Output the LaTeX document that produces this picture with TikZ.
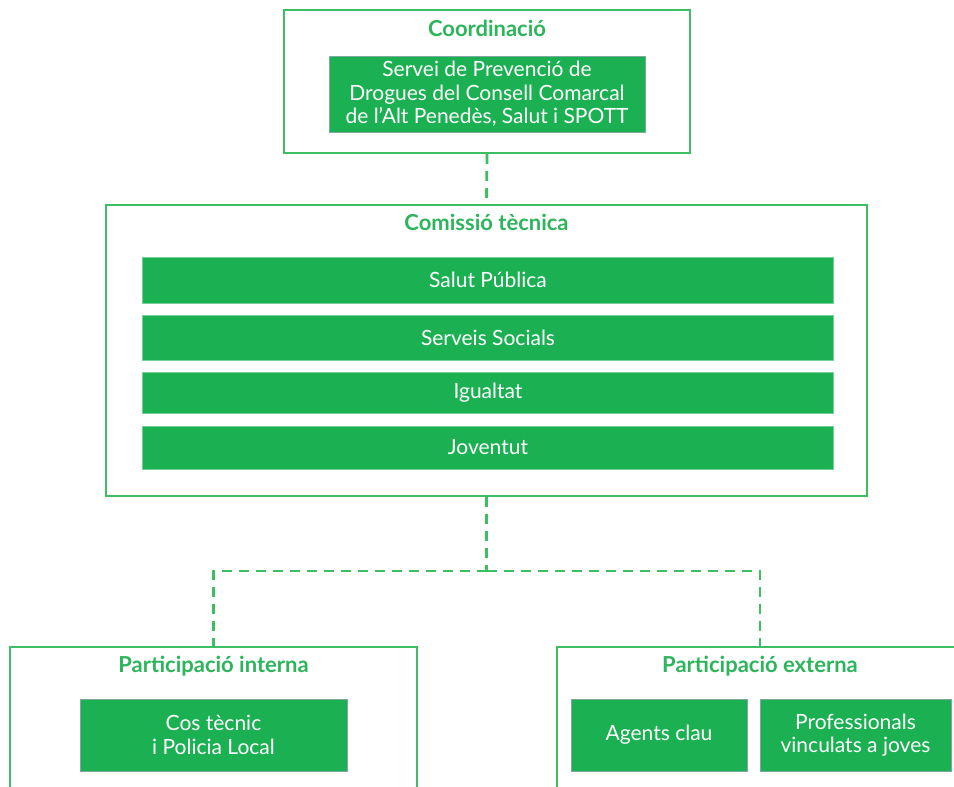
\documentclass[tikz,border=0pt]{standalone}
\usepackage{fontspec}
\setmainfont{Lato}
\definecolor{frame}{HTML}{3DBE63}
\definecolor{fillg}{HTML}{1BB152}
\definecolor{edgeg}{HTML}{7FA9A0}
\definecolor{titleg}{HTML}{2DB55B}
\tikzset{
  outerbox/.style={draw=frame, line width=1.6pt, fill=white, inner sep=0pt},
  greenbox/.style={draw=edgeg, line width=0.6pt, fill=fillg, text=white,
    font=\fontsize{21}{23.5}\selectfont, align=center, inner sep=0pt},
  barbox/.style={greenbox, draw=fillg!60!white},
  grouptitle/.style={text=titleg, font=\fontsize{22}{24}\selectfont\bfseries, inner sep=0pt},
  link/.style={draw=frame, line width=2.8pt, dash pattern=on 10pt off 7pt},
}
\begin{document}
\begin{tikzpicture}[x=1pt, y=-1pt]
\useasboundingbox (0,0) rectangle (954,787);
\clip (0,0) rectangle (954,787);
\fill[white] (0,0) rectangle (954,787);

% Coordination group
\node[outerbox, minimum width=406pt, minimum height=143pt] (coord) at (487,81.5) {};
\node[grouptitle] (coordT) at (487,28) {Coordinació};
\node[greenbox, minimum width=316pt, minimum height=76pt] (spd) at (487,94)
  {Servei de Prevenció de\\Drogues del Consell Comarcal\\de l’Alt Penedès, Salut i SPOTT};

% Technical commission
\node[outerbox, minimum width=761pt, minimum height=291pt] (com) at (486.5,350.5) {};
\node[grouptitle] (comT) at (486.5,222) {Comissió tècnica};
\node[barbox, minimum width=691pt, minimum height=46pt] (b1) at (488,280) {Salut Pública};
\node[barbox, minimum width=691pt, minimum height=45pt] (b2) at (488,337.5) {Serveis Socials};
\node[barbox, minimum width=691pt, minimum height=41pt] (b3) at (488,392.5) {Igualtat};
\node[barbox, minimum width=691pt, minimum height=43pt] (b4) at (488,447.5) {Joventut};

% Participation groups
\node[outerbox, minimum width=407pt, minimum height=160pt] (int) at (213.5,727) {};
\node[grouptitle] (intT) at (213.5,666) {Participació interna};
\node[greenbox, minimum width=267pt, minimum height=72pt] (cos) at (213.5,735)
  {Cos tècnic\\i Policia Local};

\node[outerbox, minimum width=406pt, minimum height=160pt] (ext) at (760,727) {};
\node[grouptitle] (extT) at (760,666) {Participació externa};
\node[greenbox, minimum width=176pt, minimum height=72pt] (agents) at (659,735) {Agents clau};
\node[greenbox, minimum width=191pt, minimum height=72pt] (prof) at (855.5,735)
  {Professionals\\vinculats a joves};

% Dashed connectors
\coordinate (split) at (486.5,571);
\draw[link] (coord.south) -- (com.north);
\draw[link] (com.south) -- (split);
\draw[link] (split) -| (int.north);
\draw[link] (split) -| (ext.north);
\end{tikzpicture}
\end{document}
